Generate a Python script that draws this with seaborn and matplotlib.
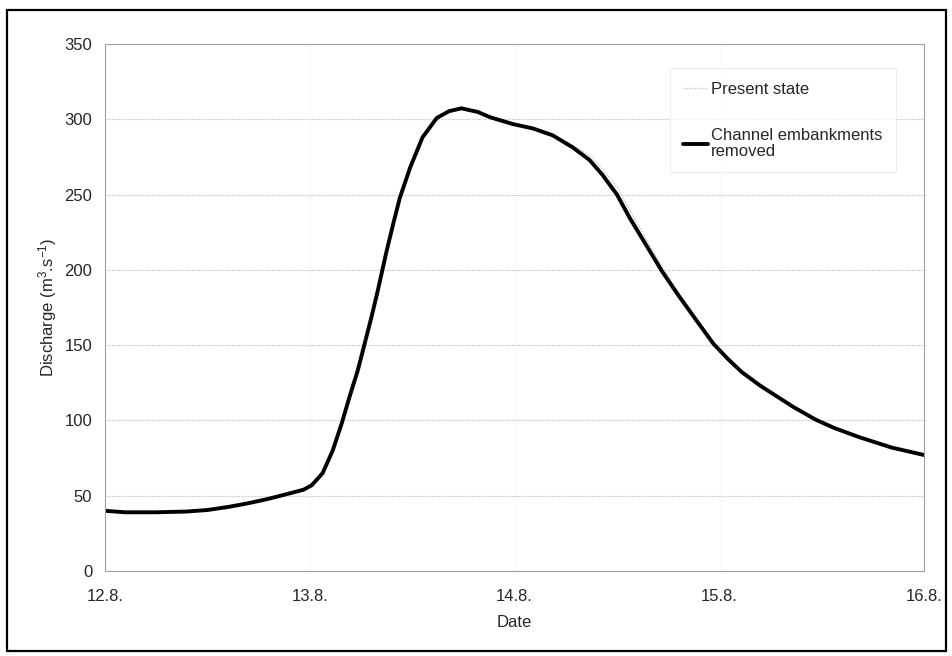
import numpy as np
import pandas as pd
import seaborn as sns
import matplotlib.pyplot as plt
from matplotlib.patches import Rectangle

# time in days since 12.8. 00:00
days = [0.00, 0.10, 0.25, 0.40, 0.50, 0.60, 0.70, 0.80, 0.90, 0.97, 1.01, 1.063,
        1.112, 1.156, 1.195, 1.234, 1.268, 1.30, 1.33, 1.376, 1.41, 1.44, 1.49,
        1.55, 1.62, 1.68, 1.74, 1.82, 1.88, 1.99, 2.09, 2.185, 2.283, 2.366,
        2.43, 2.50, 2.56, 2.64, 2.72, 2.80, 2.89, 2.97, 3.04, 3.11, 3.20, 3.28,
        3.36, 3.47, 3.56, 3.68, 3.76, 3.84, 3.92, 4.00]
removed = [40, 39, 39, 39.5, 40.5, 42.5, 45, 48, 51.5, 54, 57, 65,
           80, 98, 116, 133, 151, 168, 185, 213, 232, 248, 268,
           288, 301, 305.5, 307.4, 305, 301.5, 297, 294, 289.5, 281.5, 273,
           263, 250, 235, 217, 199, 183, 166, 151, 141, 132, 123, 116,
           109, 100.5, 95, 89, 85.5, 82, 79.5, 77]
present = [40, 39, 39, 39.5, 40.5, 42.5, 45, 48, 51.5, 54, 57, 65,
           81, 100, 119, 136, 154, 171, 188, 215, 234, 250, 270,
           289, 301, 305.5, 307.4, 305, 301.5, 297, 294, 290, 283, 276,
           267, 255, 240, 221, 202, 185, 167, 151, 141, 132, 123, 116,
           109, 100.5, 95, 89, 85.5, 82, 79.5, 77]

tick_pos = [0, 1, 2, 3, 4]
tick_labels = ["12.8.", "13.8.", "14.8.", "15.8.", "16.8."]

df = pd.DataFrame({"day": days, "Present state": present,
                   "Channel embankments removed": removed})

sns.set_style("white")
plt.rcParams['font.family'] = ['Liberation Sans', 'DejaVu Sans']

fig = plt.figure(figsize=(9.53, 6.56), dpi=100)
ax = fig.add_axes([0.110, 0.1296, 0.860, 0.803])

sns.lineplot(data=df, x="day", y="Present state", ax=ax, color="#c4c4c4",
             linewidth=1.0, linestyle=(0, (1, 1)), label="Present state")
sns.lineplot(data=df, x="day", y="Channel embankments removed", ax=ax, color="black",
             linewidth=2.8, label="Channel embankments\nremoved")

ax.set_xlim(0, 4)
ax.set_ylim(0, 350)
ax.set_xticks(tick_pos)
ax.set_xticklabels(tick_labels)
ax.set_yticks(np.arange(0, 351, 50))
ax.tick_params(axis="x", length=0, pad=13, labelsize=12)
ax.tick_params(axis="y", length=0, pad=9, labelsize=12)

ax.grid(True, axis="y", color="#bdbdbd", linestyle=(0, (1, 1)), linewidth=0.8)
ax.grid(True, axis="x", color="#e2e2e2", linestyle=(0, (1, 3)), linewidth=0.7)
for s in ax.spines.values():
    s.set_color("#a0a0a0")
    s.set_linewidth(0.8)
ax.spines["top"].set_linestyle((0, (1, 1)))

ax.set_xlabel("Date", fontsize=12, labelpad=8)
ax.set_ylabel(r"Discharge (m$\mathregular{^3}$.s$\mathregular{^{-1}}$)", fontsize=12, labelpad=4)

leg = ax.legend(loc="upper right", bbox_to_anchor=(0.975, 0.97), fontsize=12,
                frameon=True, fancybox=False, edgecolor="#e6e6e6",
                handlelength=1.5, handletextpad=0.15, labelspacing=1.9,
                borderpad=0.8)
leg.get_frame().set_linewidth(0.6)
for t in leg.get_texts():
    t.set_linespacing(1.05)

fig.patches.append(Rectangle((0.007, 0.008), 0.986, 0.977, transform=fig.transFigure,
                             fill=False, edgecolor="black", linewidth=1.6))

fig.savefig("out.png", dpi=100)
